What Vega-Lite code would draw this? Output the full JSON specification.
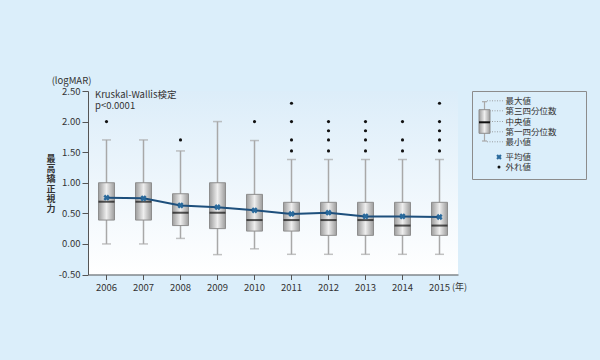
{
  "$schema": "https://vega.github.io/schema/vega-lite/v6.json",
  "background": "#dbeefa",
  "padding": {"left": 46, "top": 76, "right": 14, "bottom": 68},
  "config": {
    "font": "Noto Sans CJK JP",
    "view": {"stroke": null},
    "concat": {"spacing": 3},
    "axis": {"labelOverlap": false, "labelBound": false}
  },
  "datasets": {
    "boxes": [
      {"year": "2006", "min": 0.0, "q1": 0.39, "median": 0.69, "q3": 1.0, "max": 1.7, "mean": 0.755},
      {"year": "2007", "min": 0.0, "q1": 0.39, "median": 0.69, "q3": 1.0, "max": 1.7, "mean": 0.745},
      {"year": "2008", "min": 0.09, "q1": 0.3, "median": 0.51, "q3": 0.82, "max": 1.52, "mean": 0.63},
      {"year": "2009", "min": -0.175, "q1": 0.25, "median": 0.51, "q3": 1.0, "max": 2.0, "mean": 0.6},
      {"year": "2010", "min": -0.08, "q1": 0.21, "median": 0.39, "q3": 0.81, "max": 1.69, "mean": 0.55},
      {"year": "2011", "min": -0.17, "q1": 0.21, "median": 0.39, "q3": 0.68, "max": 1.38, "mean": 0.49},
      {"year": "2012", "min": -0.17, "q1": 0.14, "median": 0.39, "q3": 0.68, "max": 1.38, "mean": 0.51},
      {"year": "2013", "min": -0.17, "q1": 0.14, "median": 0.39, "q3": 0.68, "max": 1.38, "mean": 0.45},
      {"year": "2014", "min": -0.17, "q1": 0.14, "median": 0.3, "q3": 0.68, "max": 1.38, "mean": 0.45},
      {"year": "2015", "min": -0.17, "q1": 0.14, "median": 0.3, "q3": 0.68, "max": 1.38, "mean": 0.44}
    ],
    "outliers": [
      {"year": "2006", "value": 2.0},
      {"year": "2008", "value": 1.7},
      {"year": "2010", "value": 2.0},
      {"year": "2011", "value": 2.3},
      {"year": "2011", "value": 2.0},
      {"year": "2011", "value": 1.7},
      {"year": "2011", "value": 1.52},
      {"year": "2012", "value": 2.0},
      {"year": "2012", "value": 1.85},
      {"year": "2012", "value": 1.7},
      {"year": "2012", "value": 1.52},
      {"year": "2013", "value": 2.0},
      {"year": "2013", "value": 1.85},
      {"year": "2013", "value": 1.7},
      {"year": "2013", "value": 1.52},
      {"year": "2014", "value": 2.0},
      {"year": "2014", "value": 1.7},
      {"year": "2014", "value": 1.52},
      {"year": "2015", "value": 2.3},
      {"year": "2015", "value": 2.0},
      {"year": "2015", "value": 1.85},
      {"year": "2015", "value": 1.7},
      {"year": "2015", "value": 1.52}
    ],
    "legendKey": [
      {"lo": 10.7, "q3": 18.7, "mid": 31.3, "q1": 42.3, "hi": 50}
    ],
    "legendLabels": [
      {"label": "最大値", "ly": 9.8},
      {"label": "第三四分位数", "ly": 19.8},
      {"label": "中央値", "ly": 30.5},
      {"label": "第一四分位数", "ly": 40.8},
      {"label": "最小値", "ly": 50.8}
    ],
    "legendSymbols": [
      {"label": "平均値", "ly": 66, "sym": "mean"},
      {"label": "外れ値", "ly": 76, "sym": "out"}
    ]
  },
  "hconcat": [
    {
      "width": 370,
      "height": 183.5,
      "view": {
        "stroke": null,
        "fill": {
          "gradient": "linear", "x1": 0, "y1": 0, "x2": 0, "y2": 1,
          "stops": [{"offset": 0, "color": "#dcedf9"}, {"offset": 1, "color": "#ffffff"}]
        }
      },
      "encoding": {
        "x": {
          "field": "year", "type": "nominal",
          "scale": {"paddingInner": 0, "paddingOuter": 0},
          "axis": {
            "title": null, "labelAngle": 0, "labelFontSize": 9.5, "labelColor": "#333333",
            "tickColor": "#555555", "domainColor": "#555555", "tickSize": 5, "labelPadding": 3, "grid": false
          }
        },
        "y": {
          "type": "quantitative",
          "scale": {"domain": [-0.5, 2.5], "nice": false, "zero": false},
          "axis": {
            "values": [-0.5, 0, 0.5, 1, 1.5, 2, 2.5],
            "format": ".2f",
            "labelExpr": "datum.value < 0 ? '-' + format(-datum.value, '.2f') : format(datum.value, '.2f')",
            "labelOverlap": false,
            "grid": false, "tickSize": 6, "labelPadding": 2, "labelFontSize": 9.5,
            "labelColor": "#333333", "tickColor": "#555555", "domainColor": "#555555",
            "title": null
          }
        }
      },
      "layer": [
        {
          "data": {"name": "boxes"},
          "mark": {"type": "rule", "color": "#a8a8a8", "strokeWidth": 1.5},
          "encoding": {"y": {"field": "min"}, "y2": {"field": "max"}}
        },
        {
          "data": {"name": "boxes"},
          "mark": {"type": "tick", "color": "#a8a8a8", "size": 9, "thickness": 1.5},
          "encoding": {"y": {"field": "min"}}
        },
        {
          "data": {"name": "boxes"},
          "mark": {"type": "tick", "color": "#a8a8a8", "size": 9, "thickness": 1.5},
          "encoding": {"y": {"field": "max"}}
        },
        {
          "data": {"name": "boxes"},
          "mark": {
            "type": "bar", "size": 16, "stroke": "#8e8e8e", "strokeWidth": 1,
            "fill": {
              "gradient": "linear", "x1": 0, "y1": 0, "x2": 1, "y2": 0,
              "stops": [{"offset": 0, "color": "#9c9c9c"}, {"offset": 0.5, "color": "#eeeeee"}, {"offset": 1, "color": "#9c9c9c"}]
            }
          },
          "encoding": {"y": {"field": "q1"}, "y2": {"field": "q3"}}
        },
        {
          "data": {"name": "boxes"},
          "mark": {"type": "tick", "color": "#111111", "size": 16, "thickness": 2},
          "encoding": {"y": {"field": "median"}}
        },
        {
          "data": {"name": "boxes"},
          "mark": {"type": "line", "color": "#1d4f7c", "strokeWidth": 2},
          "encoding": {"y": {"field": "mean"}}
        },
        {
          "data": {"name": "boxes"},
          "mark": {"type": "point", "shape": "cross", "angle": 45, "filled": true, "size": 40, "color": "#2a6a9c", "opacity": 1},
          "encoding": {"y": {"field": "mean"}}
        },
        {
          "data": {"name": "outliers"},
          "mark": {"type": "circle", "size": 10, "color": "#111111", "opacity": 1},
          "encoding": {"y": {"field": "value"}}
        },
        {
          "data": {"values": [{"t": "最\n高\n矯\n正\n視\n力"}]},
          "mark": {"type": "text", "fontSize": 9, "fontWeight": "bold", "color": "#333333", "align": "center", "baseline": "middle", "dx": -55.5, "dy": -24, "lineBreak": "\n", "lineHeight": 10},
          "encoding": {"x": {"datum": "2006"}, "y": {"datum": 1.0}, "text": {"field": "t"}}
        },
        {
          "data": {"values": [{"t": "(logMAR)"}]},
          "mark": {"type": "text", "fontSize": 9.5, "color": "#333333", "align": "center", "baseline": "middle", "dx": -35, "dy": -10},
          "encoding": {"x": {"datum": "2006"}, "y": {"datum": 2.5}, "text": {"field": "t"}}
        },
        {
          "data": {"values": [{"t": "Kruskal-Wallis検定\np<0.0001"}]},
          "mark": {"type": "text", "fontSize": 9.5, "color": "#333333", "align": "left", "baseline": "middle", "dx": -11.5, "dy": 4.2, "lineBreak": "\n", "lineHeight": 10.5},
          "encoding": {"x": {"datum": "2006"}, "y": {"datum": 2.5}, "text": {"field": "t"}}
        },
        {
          "data": {"values": [{"t": "(年)"}]},
          "mark": {"type": "text", "fontSize": 9, "color": "#333333", "align": "left", "baseline": "middle", "dx": 12.5, "dy": 12},
          "encoding": {"x": {"datum": "2015"}, "y": {"datum": -0.5}, "text": {"field": "t"}}
        }
      ]
    },
    {
      "width": 114,
      "height": 88,
      "view": {"stroke": "#8c8c8c", "strokeWidth": 1, "fill": null},
      "layer": [
        {
          "data": {"name": "legendKey"},
          "mark": {"type": "rule", "color": "#a8a8a8", "strokeWidth": 1.2},
          "encoding": {
            "x": {"datum": 12.5, "type": "quantitative", "scale": {"domain": [0, 114], "nice": false, "zero": false}, "axis": null},
            "y": {"field": "lo", "type": "quantitative", "scale": {"domain": [0, 88], "reverse": true, "nice": false, "zero": false}, "axis": null},
            "y2": {"field": "hi"}
          }
        },
        {
          "data": {"name": "legendKey"},
          "mark": {"type": "rule", "color": "#a8a8a8", "strokeWidth": 1.2},
          "encoding": {"x": {"datum": 10}, "x2": {"datum": 15}, "y": {"field": "lo", "type": "quantitative"}}
        },
        {
          "data": {"name": "legendKey"},
          "mark": {"type": "rule", "color": "#a8a8a8", "strokeWidth": 1.2},
          "encoding": {"x": {"datum": 10}, "x2": {"datum": 15}, "y": {"field": "hi", "type": "quantitative"}}
        },
        {
          "data": {"name": "legendLabels"},
          "mark": {"type": "rule", "color": "#8a8a8a", "strokeWidth": 0.8, "strokeDash": [1, 1.5]},
          "encoding": {"x": {"datum": 15}, "x2": {"datum": 31}, "y": {"field": "ly", "type": "quantitative"}}
        },
        {
          "data": {"name": "legendKey"},
          "mark": {
            "type": "rect", "stroke": "#8e8e8e", "strokeWidth": 1,
            "fill": {
              "gradient": "linear", "x1": 0, "y1": 0, "x2": 1, "y2": 0,
              "stops": [{"offset": 0, "color": "#9c9c9c"}, {"offset": 0.5, "color": "#eeeeee"}, {"offset": 1, "color": "#9c9c9c"}]
            }
          },
          "encoding": {"x": {"datum": 7}, "x2": {"datum": 18}, "y": {"field": "q3", "type": "quantitative"}, "y2": {"field": "q1"}}
        },
        {
          "data": {"name": "legendKey"},
          "mark": {"type": "rule", "color": "#111111", "strokeWidth": 2},
          "encoding": {"x": {"datum": 7}, "x2": {"datum": 18}, "y": {"field": "mid", "type": "quantitative"}}
        },
        {
          "data": {"name": "legendLabels"},
          "mark": {"type": "text", "fontSize": 8.5, "color": "#333333", "align": "left", "baseline": "middle"},
          "encoding": {"x": {"datum": 33.5}, "y": {"field": "ly", "type": "quantitative"}, "text": {"field": "label"}}
        },
        {
          "data": {"name": "legendSymbols"},
          "transform": [{"filter": "datum.sym == 'mean'"}],
          "mark": {"type": "point", "shape": "cross", "angle": 45, "filled": true, "size": 30, "color": "#2a6a9c", "opacity": 1},
          "encoding": {"x": {"datum": 27}, "y": {"field": "ly", "type": "quantitative"}}
        },
        {
          "data": {"name": "legendSymbols"},
          "transform": [{"filter": "datum.sym == 'out'"}],
          "mark": {"type": "circle", "size": 9, "color": "#111111", "opacity": 1},
          "encoding": {"x": {"datum": 27}, "y": {"field": "ly", "type": "quantitative"}}
        },
        {
          "data": {"name": "legendSymbols"},
          "mark": {"type": "text", "fontSize": 8.5, "color": "#333333", "align": "left", "baseline": "middle"},
          "encoding": {"x": {"datum": 33.5}, "y": {"field": "ly", "type": "quantitative"}, "text": {"field": "label"}}
        }
      ]
    }
  ]
}
